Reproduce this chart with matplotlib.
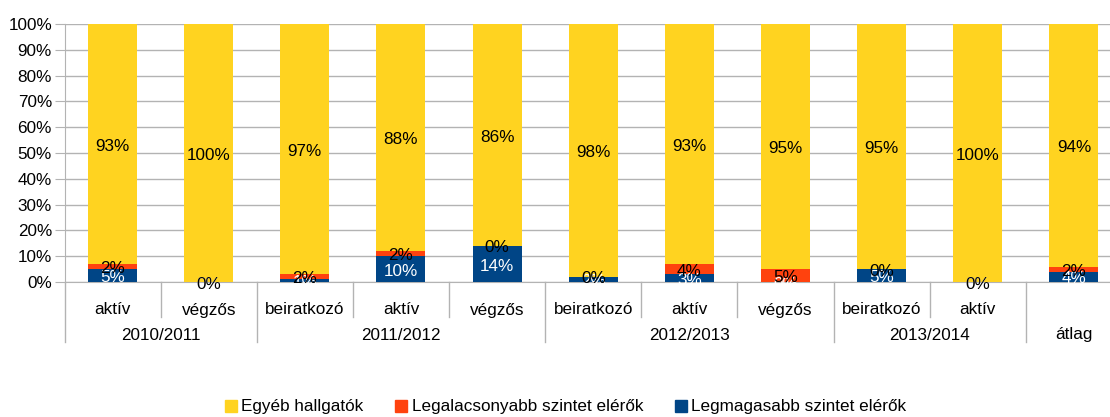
import matplotlib
matplotlib.use("Agg")
import numpy as np
import matplotlib.pyplot as plt
from matplotlib.lines import Line2D
from matplotlib.transforms import blended_transform_factory

plt.rcParams['font.family'] = ['Liberation Sans', 'DejaVu Sans']
FS = 12.3

# categories: (group, sub-label)
sub_labels = ['aktív', 'végzős', 'beiratkozó', 'aktív', 'végzős',
              'beiratkozó', 'aktív', 'végzős', 'beiratkozó', 'aktív', '']
groups = ['2010/2011', '2011/2012', '2012/2013', '2013/2014', 'átlag']
group_sizes = [2, 3, 3, 2, 1]

# shares in percent
legmagasabb = [5, 0, 1, 10, 14, 2, 3, 0, 5, 0, 4]
legalacsonyabb = [2, 0, 2, 2, 0, 0, 4, 5, 0, 0, 2]
egyeb = [93, 100, 97, 88, 86, 98, 93, 95, 95, 100, 94]

c_blue = '#004586'
c_red = '#ff420e'
c_yellow = '#ffd320'
grid_c = '#b3b3b3'

W, H = 1110, 417
fig = plt.figure(figsize=(W / 100, H / 100), dpi=100)
x0, x1, y_top, y_zero = 64.5, 1122, 24, 282
ax = fig.add_axes([x0 / W, (H - y_zero) / H, (x1 - x0) / W, (y_zero - y_top) / H])

x = np.arange(len(egyeb))
bw = 0.51
blue = np.array(legmagasabb, float)
red = np.array(legalacsonyabb, float)
yel = np.array(egyeb, float)
ax.bar(x, blue, bw, color=c_blue, zorder=3)
ax.bar(x, red, bw, bottom=blue, color=c_red, zorder=3)
ax.bar(x, yel, bw, bottom=blue + red, color=c_yellow, zorder=3)

ax.set_xlim(-0.5, len(egyeb) - 0.5)
ax.set_ylim(0, 100)
ax.set_yticks(np.arange(0, 101, 10))
ax.set_yticklabels([f'{v}%' for v in range(0, 101, 10)], fontsize=FS)
ax.yaxis.grid(True, color=grid_c, lw=1, zorder=0)
ax.tick_params(axis='y', length=7, color=grid_c, pad=2)
ax.set_xticks([])
for s in ['top', 'right']:
    ax.spines[s].set_visible(False)
for s in ['left', 'bottom']:
    ax.spines[s].set_color(grid_c)

# data labels, nudged slightly below segment centres
dy = -0.8
for i in range(len(egyeb)):
    ax.text(x[i], blue[i] / 2 + dy, f'{legmagasabb[i]}%', ha='center', va='center',
            fontsize=FS, color='white', zorder=4)
    ax.text(x[i], blue[i] + red[i] / 2 + dy, f'{legalacsonyabb[i]}%', ha='center',
            va='center', fontsize=FS, color='black', zorder=5)
    ax.text(x[i], blue[i] + red[i] + yel[i] / 2 + dy, f'{egyeb[i]}%', ha='center',
            va='center', fontsize=FS, color='black', zorder=5)

# two-level category axis
tr = blended_transform_factory(ax.transData, fig.transFigure)
def fy(py):
    return (H - py) / H

for i, lab in enumerate(sub_labels):
    if lab:
        ax.text(x[i], fy(310), lab, transform=tr, ha='center', va='center', fontsize=FS)

start = 0
bounds = [-0.5]
for g, n in zip(groups, group_sizes):
    center = start + (n - 1) / 2
    ax.text(center, fy(335), g, transform=tr, ha='center', va='center', fontsize=FS)
    for k in range(1, n):
        if sub_labels[start + k]:
            ax.add_line(Line2D([start + k - 0.5] * 2, [fy(y_zero), fy(317)],
                               transform=tr, color=grid_c, lw=1, clip_on=False))
    start += n
    bounds.append(start - 0.5)
for b in bounds:
    ax.add_line(Line2D([b, b], [fy(y_zero), fy(342)], transform=tr,
                       color=grid_c, lw=1, clip_on=False))

handles = [Line2D([], [], marker='s', ls='', ms=8, color=c)
           for c in (c_yellow, c_red, c_blue)]
fig.legend(handles, ['Egyéb hallgatók', 'Legalacsonyabb szintet elérők',
                     'Legmagasabb szintet elérők'],
           loc='center', bbox_to_anchor=(566 / W, fy(407)), ncol=3, frameon=False,
           fontsize=FS, handlelength=0.6, handletextpad=0.3, columnspacing=1.9)

fig.savefig('out.png', dpi=100)
